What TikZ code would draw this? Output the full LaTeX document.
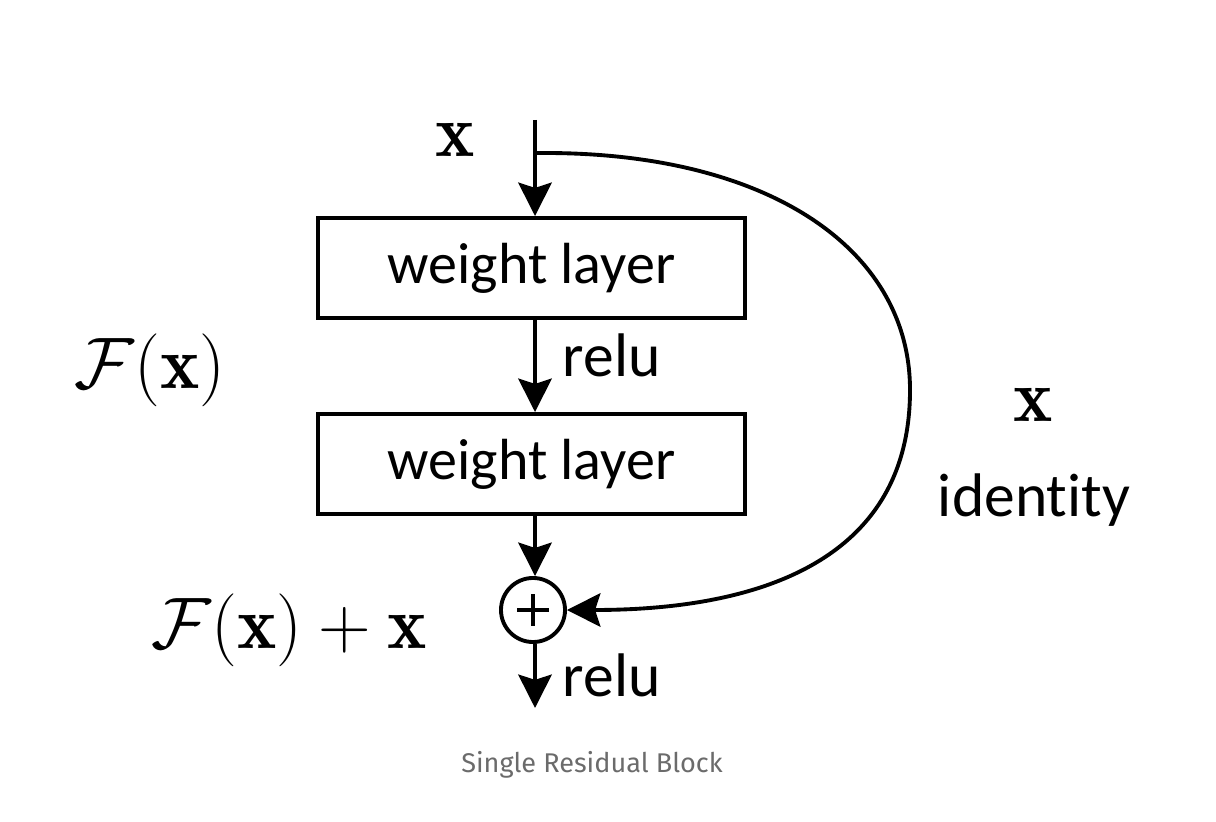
\documentclass[tikz,border=0pt]{standalone}
\usepackage{amsmath,amssymb}
\usepackage{fontspec}
\newfontfamily\boxfont[Ligatures={NoCommon,NoContextual}, Contextuals=NoAlternate]{Carlito}
\newfontfamily\capfont{Fira Sans}
\usetikzlibrary{arrows.meta}

\begin{document}
\begin{tikzpicture}[x=0.01cm, y=-0.01cm, line width=1.1pt, >={Stealth[length=9.5pt,width=9.5pt,inset=1.5pt]},
	every node/.style={inner sep=0pt}, layer/.style={draw, rectangle, minimum width=4.27cm, minimum height=1cm, font=\boxfont\fontsize{16.5}{20}\selectfont}, lbl/.style={font=\boxfont\fontsize{17.5}{21}\selectfont}, mth/.style={font=\fontsize{21.2}{25}\selectfont}, sumnode/.style={draw, circle, minimum size=0.64cm}]
	\useasboundingbox (0,0) rectangle (1216,822);
	\foreach \i/\y in {1/268, 2/464} {\node[layer] (w\i) at (531.5,\y) {weight layer};}
	\node[sumnode] (sum) at (533,610) {};
	\draw[line width=1pt] (sum.center) ++(-16,0) -- ++(32,0) (sum.center) ++(0,-16) -- ++(0,32);
	\coordinate (in) at (535,120);
	\coordinate (split) at (535,153);
	\coordinate (out) at (535,708);
	\draw[->] (in) -- (w1.north -| in);
	\draw[->] (w1.south -| in) -- (w2.north -| in);
	\draw[->] (w2.south -| in) -- (sum.north -| in);
	\draw[->] (sum.south -| in) -- (out);
	% identity shortcut
	\draw[->] (split) -- (545,153) .. controls (770,153) and (910,250) .. (910,390) .. controls (910,560) and (760,610) .. (sum.east);
	\node[mth] (xin) at (455,140) {$\mathbf{x}$};
	\node[mth] (fx) at (150,370) {$\mathcal{F}(\mathbf{x})$};
	\node[mth] (fxx) at (289,630) {$\mathcal{F}(\mathbf{x})+\mathbf{x}$};
	\node[mth] (xid) at (1033,405) {$\mathbf{x}$};
	\node[lbl, anchor=base west] (relu1) at (561,377) {relu};
	\node[lbl, anchor=base west] (relu2) at (561,696) {relu};
	\node[lbl, anchor=base west] (ident) at (936,516) {ident\kern0pt ity};
	\node[font=\capfont\fontsize{7.7}{9}\selectfont, text=black!58] (cap) at (592,765) {Single Residual Block};
\end{tikzpicture}
\end{document}
